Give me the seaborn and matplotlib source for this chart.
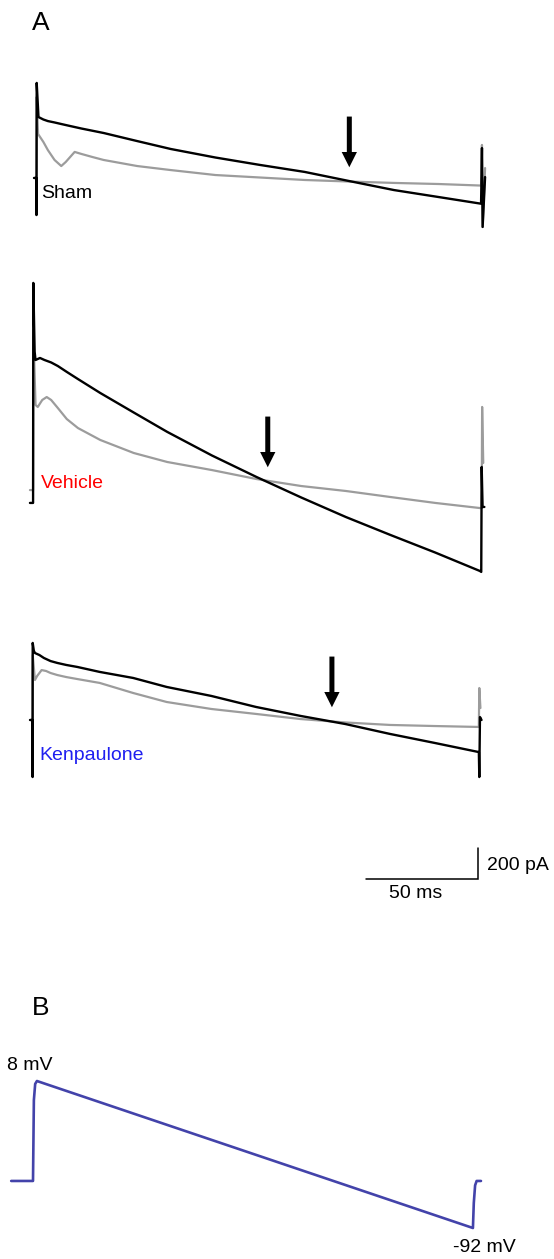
import numpy as np
import pandas as pd
import matplotlib
matplotlib.use("Agg")
import matplotlib.pyplot as plt
import seaborn as sns

sns.set_theme(style="white")
plt.rcParams['font.family'] = ['Liberation Sans', 'DejaVu Sans']
plt.rcParams['text.color'] = 'black'

# ---------------- data (time in ms, current in pA relative to crossing) -------------
sham_black_t = [-1.2, -0.2, -0.1, 0.0, 0.8, 3, 5, 8, 11, 15, 20, 30, 45, 60, 80, 100,
                120, 140, 160, 180, 199, 199.4, 199.7, 200.8]
sham_black_pA = [26, 26, -213, 639, 419, 403, 393, 384, 374, 361, 345, 316, 264, 213, 158,
                 110, 65, 6, -52, -97, -140, 219, -290, 32]
sham_gray_t = [-1.2, -0.2, -0.1, 0.0, 0.6, 3, 5, 8, 11, 13, 17, 20, 25, 30, 45, 60, 80,
               100, 120, 140, 160, 180, 199, 199.4, 199.7, 200.8]
sham_gray_pA = [26, 26, -213, 548, 310, 258, 206, 142, 103, 129, 194, 181, 161, 142, 103,
                77, 45, 29, 13, 3, -6, -13, -23, 239, -290, 90]

vehicle_black_t = [-1.5, -0.1, 0.0, 0.6, 1, 3, 5, 8, 11, 15, 20, 30, 45, 60, 80, 100, 120,
                   140, 160, 180, 200, 200.6, 200.8, 201.2, 202]
vehicle_black_pA = [-135, -135, 1284, 840, 787, 800, 787, 771, 748, 710, 664, 574, 448, 323,
                    171, 32, -100, -226, -342, -455, -574, -580, 97, -161, -161]
vehicle_gray_t = [-1.5, -0.1, 0.0, 1, 2, 4, 6, 8, 11, 15, 20, 30, 45, 60, 80, 100, 120, 140,
                  160, 180, 200, 200.8, 201.0, 201.5]
vehicle_gray_pA = [-52, -52, 980, 497, 484, 529, 548, 529, 477, 406, 348, 271, 187, 129, 77,
                   19, -26, -58, -97, -135, -168, -168, 484, 123]

kenp_black_t = [-1.2, -0.1, -0.05, 0.0, 0.5, 1, 3, 5, 8, 11, 15, 20, 30, 45, 60, 80, 100,
                120, 140, 160, 180, 199.8, 200, 200.3, 201]
kenp_black_pA = [13, 13, -355, 510, 460, 445, 432, 413, 393, 381, 368, 355, 323, 284, 226,
                 168, 97, 39, -13, -77, -135, -194, -355, 32, 13]
kenp_gray_t = [-1.2, -0.1, 0.0, 1, 2, 4, 6, 8, 11, 15, 20, 30, 45, 60, 80, 100, 120, 140,
               160, 180, 199.8, 200, 200.5]
kenp_gray_pA = [13, 13, 432, 271, 297, 335, 329, 316, 303, 290, 277, 252, 187, 129, 84, 52,
                19, -3, -19, -26, -32, 219, 90]

reversal_ms = {"Sham": 140, "Vehicle": 105, "Kenpaulone": 134}
group_labels = ["Sham", "Vehicle", "Kenpaulone"]
group_colors = ["black", "#ff0000", "#1f1ff0"]

ramp_t = [-10, 0, 0.4, 1.0, 1.8, 201.8, 202.2, 202.8, 203.5, 205.5]
ramp_mV = [-60, -60, -5, 6, 8, -92, -75, -63, -60, -60]
ramp_labels = ["8 mV", "-92 mV"]

scale_ms, scale_pA = 50, 200
scale_labels = ["50 ms", "200 pA"]

# ---------------- layout ----------------
W, H = 554, 1259
fig = plt.figure(figsize=(W / 100, H / 100), dpi=100)

PX_PER_MS = 2.233
PA_PER_PX = 6.45


def full_axes(x0_px, yref_px, px_per_x, y_per_px, yref_val=0.0):
    ax = fig.add_axes([0, 0, 1, 1])
    ax.set_xlim(-x0_px / px_per_x, (W - x0_px) / px_per_x)
    ax.set_ylim(yref_val + (yref_px - H) * y_per_px, yref_val + yref_px * y_per_px)
    ax.axis('off')
    ax.patch.set_alpha(0)
    return ax


def fx(x):
    return x / W


def fy(y):
    return 1 - y / H


panels = [
    dict(name="Sham", x0=36.7, yref=182, bt=sham_black_t, bI=sham_black_pA,
         gt=sham_gray_t, gI=sham_gray_pA, lab=(41, 194)),
    dict(name="Vehicle", x0=33.3, yref=482, bt=vehicle_black_t, bI=vehicle_black_pA,
         gt=vehicle_gray_t, gI=vehicle_gray_pA, lab=(41, 483)),
    dict(name="Kenpaulone", x0=32.7, yref=722, bt=kenp_black_t, bI=kenp_black_pA,
         gt=kenp_gray_t, gI=kenp_gray_pA, lab=(39, 756)),
]

axes = []
for i, p in enumerate(panels):
    ax = full_axes(p["x0"], p["yref"], PX_PER_MS, PA_PER_PX)
    sns.lineplot(x=p["gt"], y=p["gI"], ax=ax, color="#9c9c9c", lw=1.6,
                 estimator=None, sort=False)
    sns.lineplot(x=p["bt"], y=p["bI"], ax=ax, color="black", lw=1.7,
                 estimator=None, sort=False)
    t_rev = reversal_ms[p["name"]]
    ax.annotate("", xy=(t_rev, 95), xytext=(t_rev, 422),
                arrowprops=dict(arrowstyle="simple,head_length=1.1,head_width=1.1,tail_width=0.36",
                                fc="black", ec="none", mutation_scale=10,
                                shrinkA=0, shrinkB=0))
    ax.text(fx(p["lab"][0]), fy(p["lab"][1]), group_labels[i], color=group_colors[i],
            fontsize=14, ha="left", va="center", transform=ax.transAxes)
    axes.append(ax)

# scale bar in the Kenpaulone axes (same scales as all traces in A)
ax_k = axes[2]
sb_t0 = (366 - panels[2]["x0"]) / PX_PER_MS
sb_y0 = (panels[2]["yref"] - 879) * PA_PER_PX
ax_k.plot([sb_t0, sb_t0 + scale_ms, sb_t0 + scale_ms],
          [sb_y0, sb_y0, sb_y0 + scale_pA], color="black", lw=1.1,
          solid_joinstyle="miter", clip_on=False)
ax_k.text(fx(389), fy(893), scale_labels[0], fontsize=14, ha="left", va="center",
          transform=ax_k.transAxes)
ax_k.text(fx(487), fy(865), scale_labels[1], fontsize=14, ha="left", va="center",
          transform=ax_k.transAxes)

# panel B: voltage ramp
ax_b = full_axes(33, 1081, 2.18, 1 / 1.47, yref_val=8)
sns.lineplot(x=ramp_t, y=ramp_mV, ax=ax_b, color="#4343aa", lw=1.9,
             estimator=None, sort=False)
ax_b.text(fx(7), fy(1065), ramp_labels[0], fontsize=14, ha="left", va="center",
          transform=ax_b.transAxes)
ax_b.text(fx(453), fy(1248), ramp_labels[1], fontsize=14, ha="left", va="center",
          transform=ax_b.transAxes)

fig.text(fx(32), fy(23), "A", fontsize=19, ha="left", va="center")
fig.text(fx(32), fy(1008), "B", fontsize=19, ha="left", va="center")

fig.savefig("out.png", dpi=100, facecolor="white")
